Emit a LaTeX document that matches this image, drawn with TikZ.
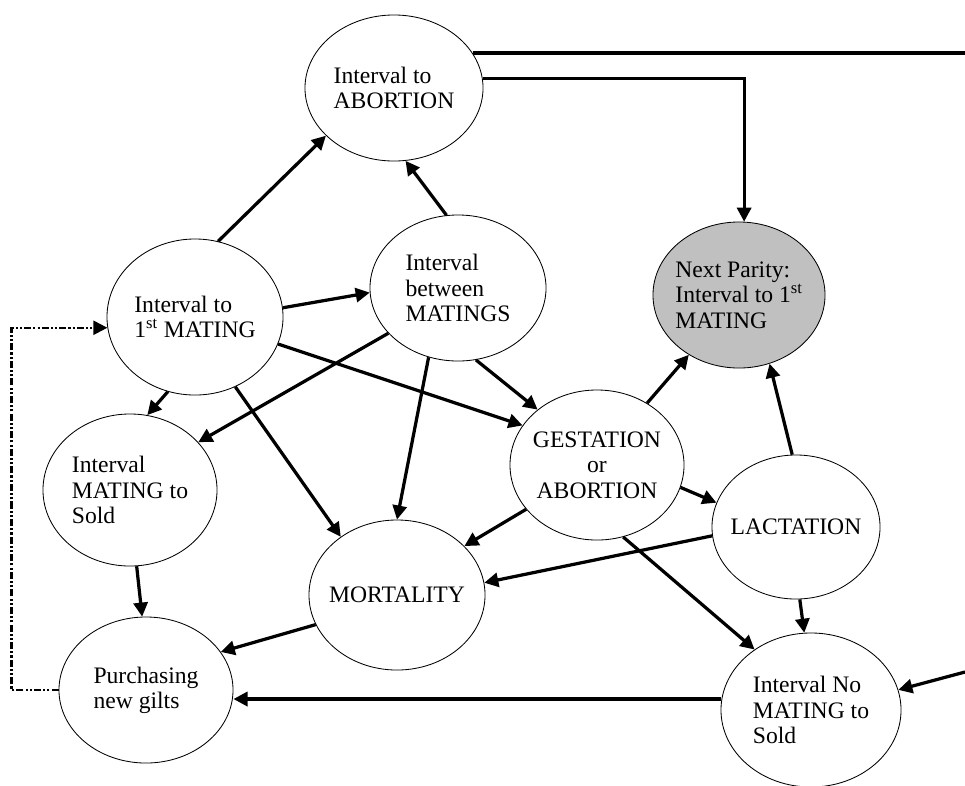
\documentclass[tikz,border=0pt]{standalone}
\usepackage{fontspec}
\setmainfont{Liberation Serif}
\usetikzlibrary{shapes.geometric,arrows.meta}
\definecolor{paritygray}{RGB}{192,192,192}
\tikzset{state/.style={ellipse,draw,line width=0.6pt,inner xsep=-6pt,inner ysep=0pt,
   align=left,font=\fontsize{16.8}{18}\selectfont},
 flow/.style={line width=2.3pt,-{Triangle[length=10pt,width=10pt]}},
 plain/.style={line width=2.3pt},
 restock/.style={line width=1.6pt,
   dash pattern=on 5pt off 1.5pt on 1.5pt off 1.5pt on 1.5pt off 1.5pt,
   -{Triangle[length=10pt,width=10pt]}},
}

\begin{document}
\begin{tikzpicture}[x=0.025cm,y=-0.025cm]
\useasboundingbox (0,0) rectangle (965,785);

% states
\node[state,minimum width=4.45cm,minimum height=3.65cm] (abort) at (394,88) {Interval to\\ABORTION};
\node[state,minimum width=4.4cm,minimum height=3.9cm] (first) at (195,317) {Interval to\\1\textsuperscript{st} MATING};
\node[state,minimum width=4.4cm,minimum height=3.65cm] (between) at (458,288) {Interval\\between\\MATINGS};
\node[state,minimum width=4.3cm,minimum height=3.65cm,fill=paritygray] (next) at (739,295) {Next Parity:\\Interval to 1\textsuperscript{st}\\MATING};
\node[state,minimum width=4.35cm,minimum height=3.75cm,align=center] (gest) at (597,465) {GESTATION\\or\\ABORTION};
\node[state,minimum width=4.35cm,minimum height=3.8cm] (sold) at (130,490) {Interval\\MATING to\\Sold};
\node[state,minimum width=4.2cm,minimum height=3.6cm] (lact) at (796,527) {LACTATION};
\node[state,minimum width=4.4cm,minimum height=3.75cm] (mort) at (397,595) {MORTALITY};
\node[state,minimum width=4.35cm,minimum height=3.65cm] (purch) at (146,690) {Purchasing\\new gilts};
\node[state,minimum width=4.5cm,minimum height=3.85cm] (nosold) at (811,710) {Interval No\\MATING to\\Sold};

\coordinate (edgeT) at (965,53);
\coordinate (edgeR) at (965,672);

% arrows
\draw[flow] (first.73) -- (abort.215);
\draw[flow] (between.99) -- (abort.279);
\draw[flow] (first.6) -- (between.183);
\draw[flow] (between.213) -- (sold.35);
\draw[flow] (first.342) -- (gest.152);
\draw[flow] (first.250) -- (sold.77);
\draw[flow] (first.300) -- (mort.134);
\draw[flow] (between.247) -- (mort.90);
\draw[flow] (between.284) -- (gest.137);
\draw[flow] (gest.51) -- (next.230);
\draw[flow] (lact.93) -- (next.294);
\draw[flow] (gest.345) -- (lact.163);
\draw[flow] (gest.212) -- (mort.36);
\draw[flow] (lact.186) -- (mort.8);
\draw[flow] (gest.290) -- (nosold.133);
\draw[flow] (lact.273) -- (nosold.95);
\draw[flow] (sold.275) -- (purch.93);
\draw[flow] (mort.200) -- (purch.27);
\draw[flow] (nosold.173) -- (nosold.173 -| purch.east);
\draw[flow] (edgeR) -- (nosold.13);

\draw[plain] (abort.24) -- (abort.24 -| edgeT);
\draw[flow] (abort.6) -| (next.86);
\draw[restock] (purch.west) -- ++(-47,0) |- (first.187);
\end{tikzpicture}
\end{document}
